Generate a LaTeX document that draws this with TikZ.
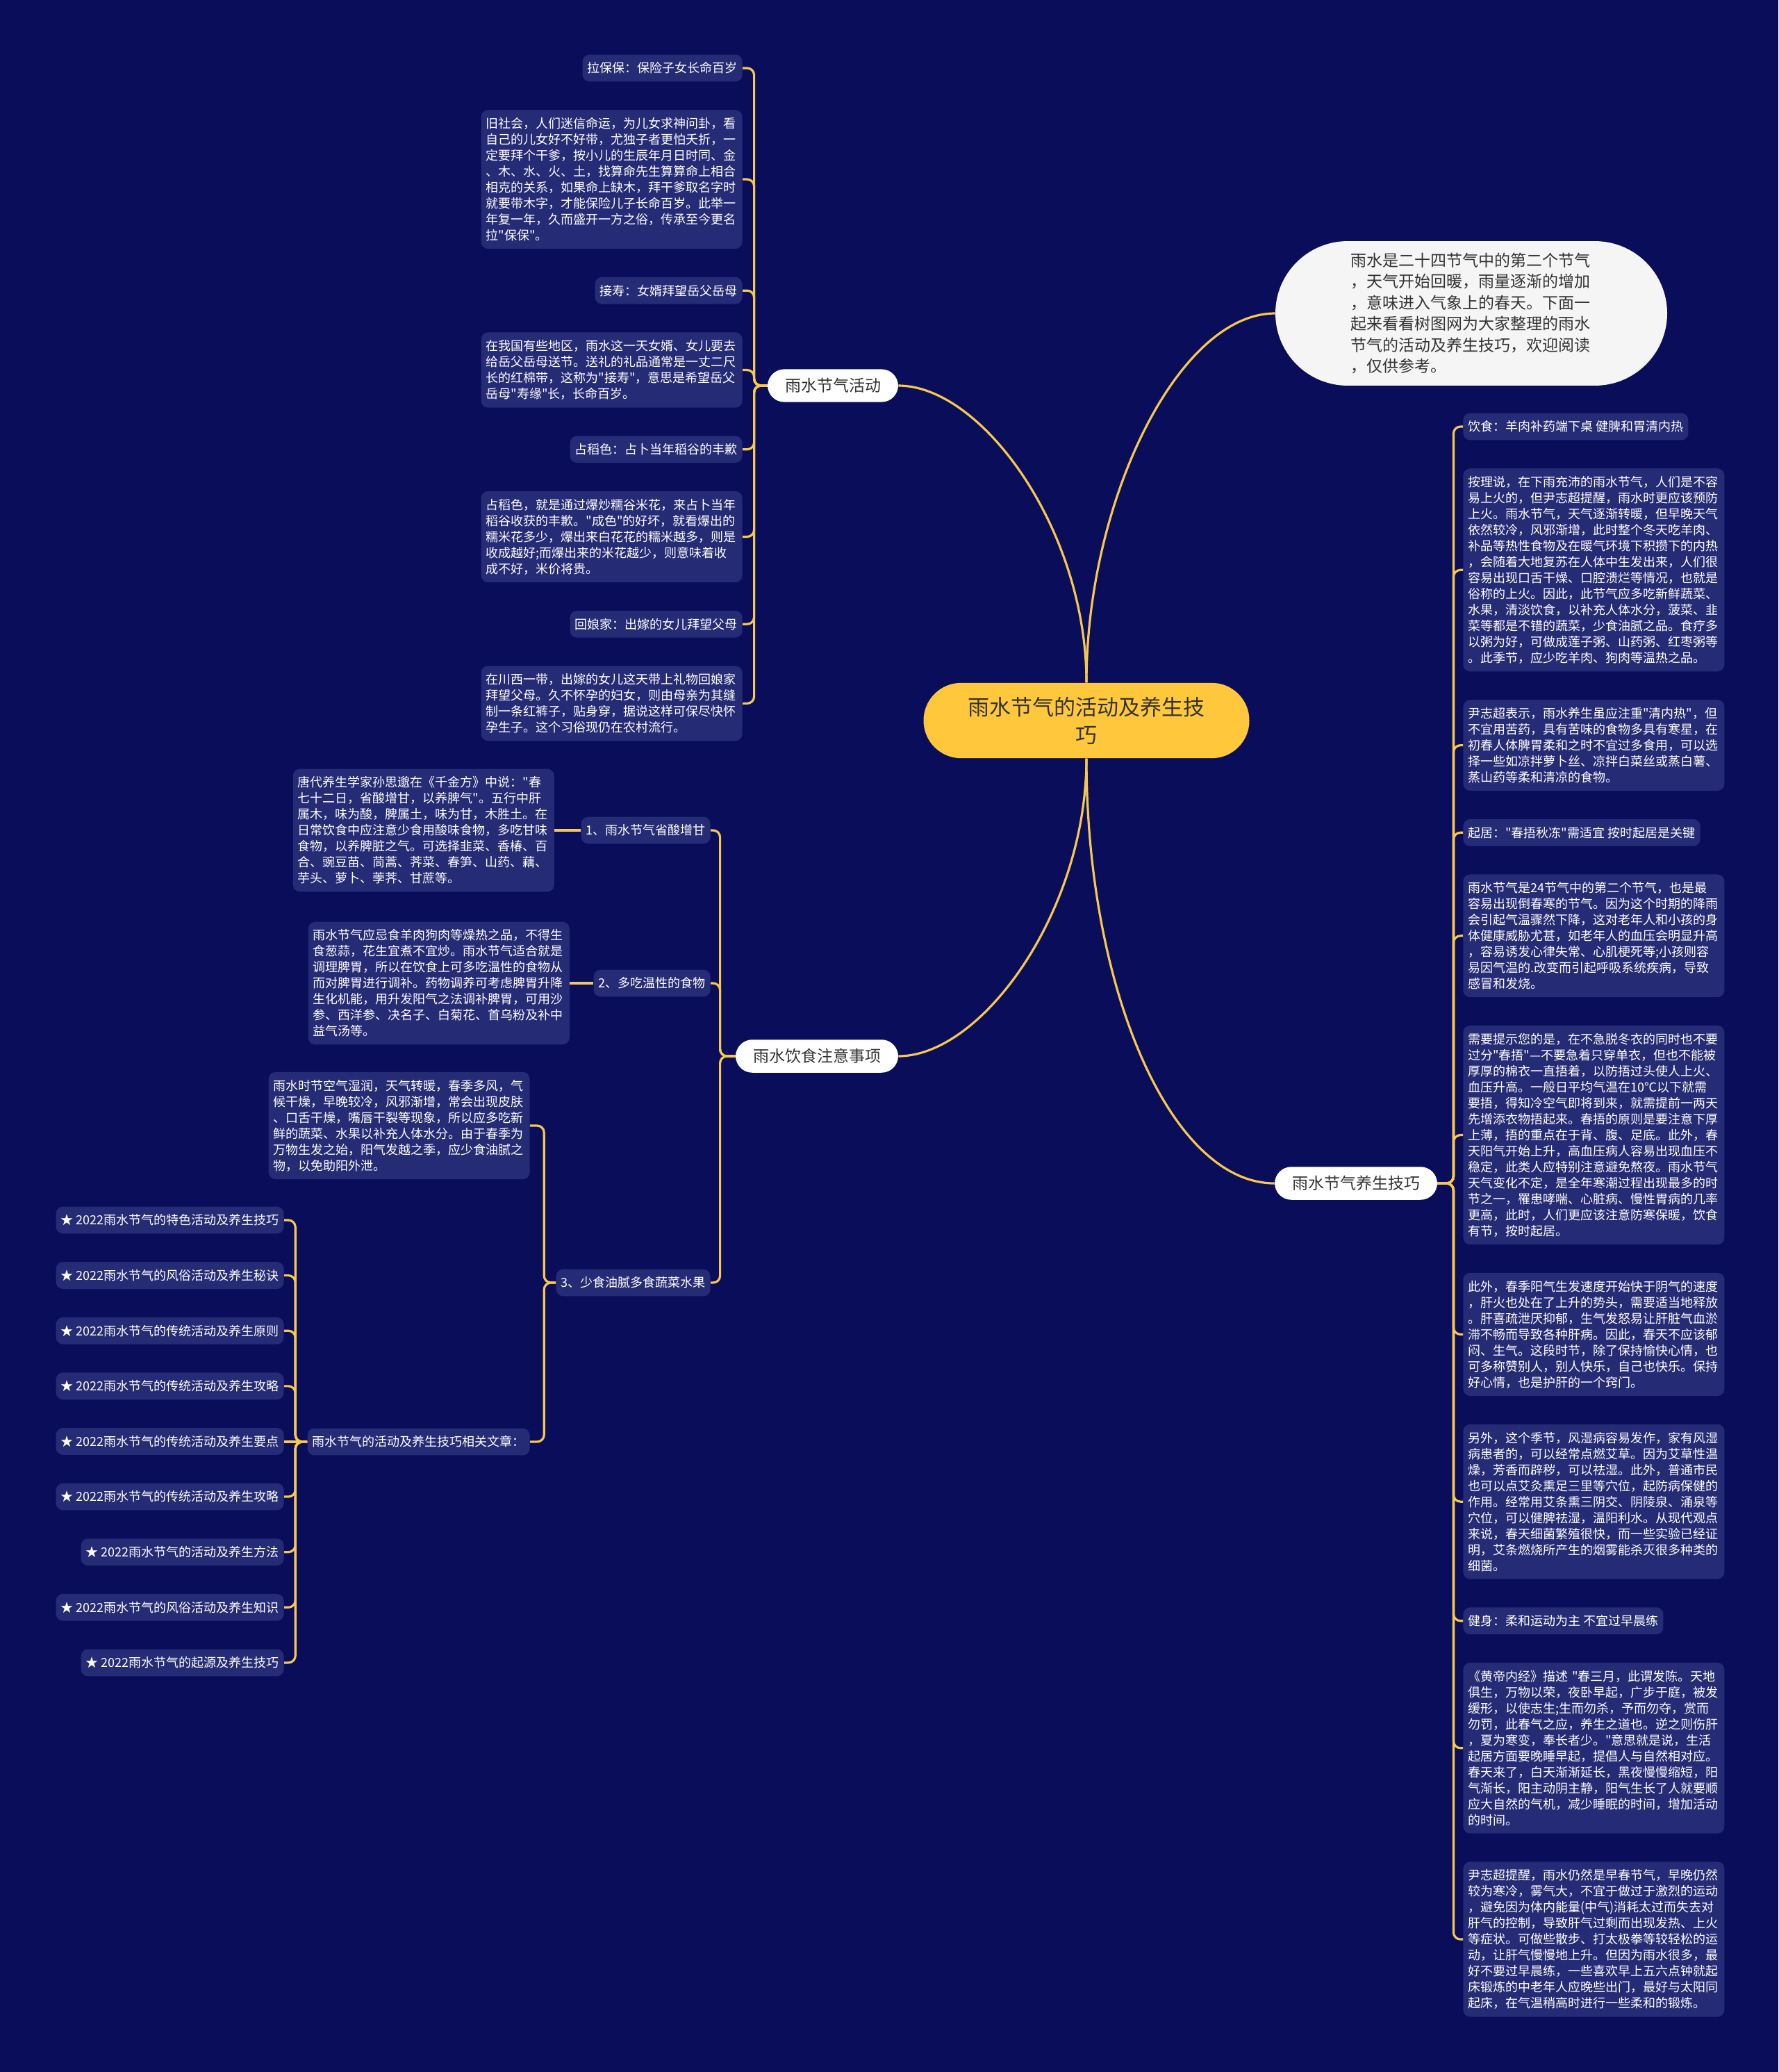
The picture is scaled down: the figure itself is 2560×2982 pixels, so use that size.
\documentclass[tikz,border=0pt]{standalone}
\usepackage{fontspec}
\newfontfamily\cjk{Noto Sans CJK SC}
\usetikzlibrary{positioning}
\definecolor{bgc}{RGB}{10,14,90}
\definecolor{leafc}{RGB}{38,43,117}
\definecolor{linkc}{RGB}{247,200,80}
\definecolor{rootc}{RGB}{255,200,60}
\definecolor{inkc}{RGB}{51,51,51}

\begin{document}
\begin{tikzpicture}[
  x=0.5pt,y=-0.5pt,
  node distance=20pt,
  leaf/.style={fill=leafc,rounded corners=5pt,text=white,font=\cjk\fontsize{9}{11.5}\selectfont,inner xsep=3.5pt,inner ysep=5.5pt},
  note/.style={leaf,text width=181pt,align=left},
  branch/.style={fill=white,rounded corners=12pt,text=inkc,font=\cjk\fontsize{11.5}{14}\selectfont,inner xsep=12.5pt,inner ysep=6.5pt},
  rootnode/.style={fill=rootc,rounded corners=27pt,text=inkc,font=\cjk\fontsize{15.5}{20}\selectfont,align=center,inner xsep=32pt,inner ysep=10pt},
  bubble/.style={fill=white!96!black,rounded corners=52pt,text=inkc,font=\cjk\fontsize{11.5}{15.2}\selectfont,text width=174pt,align=left,inner xsep=54pt,inner ysep=8.5pt},
  link/.style={draw=linkc,line width=1.6pt},
  fork/.style={link,rounded corners=5pt}
]
\fill[bgc] (0,0) rectangle (2560,2982);
\useasboundingbox (0,0) rectangle (2560,2982);

\node[rootnode] (root) at (1564,1037) {雨水节气的活动及养生技\\巧};
\node[bubble] (intro) at (2118,451) {雨水是二十四节气中的第二个节气\\，天气开始回暖，雨量逐渐的增加\\，意味进入气象上的春天。下面一\\起来看看树图网为大家整理的雨水\\节气的活动及养生技巧，欢迎阅读\\，仅供参考。};
\node[branch] (act) at (1199,555) {雨水节气活动};
\node[branch] (diet) at (1176,1520) {雨水饮食注意事项};
\node[branch] (care) at (1952,1703) {雨水节气养生技巧};

\node[leaf,anchor=east] (a1) at (1069,98) {拉保保：保险子女长命百岁};
\node[note,below=of a1.south east,anchor=north east] (a2) {旧社会，人们迷信命运，为儿女求神问卦，看\\自己的儿女好不好带，尤独子者更怕夭折，一\\定要拜个干爹，按小儿的生辰年月日时同、金\\、木、水、火、土，找算命先生算算命上相合\\相克的关系，如果命上缺木，拜干爹取名字时\\就要带木字，才能保险儿子长命百岁。此举一\\年复一年，久而盛开一方之俗，传承至今更名\\拉"保保"。};
\node[leaf,below=of a2.south east,anchor=north east] (a3) {接寿：女婿拜望岳父岳母};
\node[note,below=of a3.south east,anchor=north east] (a4) {在我国有些地区，雨水这一天女婿、女儿要去\\给岳父岳母送节。送礼的礼品通常是一丈二尺\\长的红棉带，这称为"接寿"，意思是希望岳父\\岳母"寿缘"长，长命百岁。};
\node[leaf,below=of a4.south east,anchor=north east] (a5) {占稻色：占卜当年稻谷的丰歉};
\node[note,below=of a5.south east,anchor=north east] (a6) {占稻色，就是通过爆炒糯谷米花，来占卜当年\\稻谷收获的丰歉。"成色"的好坏，就看爆出的\\糯米花多少，爆出来白花花的糯米越多，则是\\收成越好;而爆出来的米花越少，则意味着收\\成不好，米价将贵。};
\node[leaf,below=of a6.south east,anchor=north east] (a7) {回娘家：出嫁的女儿拜望父母};
\node[note,below=of a7.south east,anchor=north east] (a8) {在川西一带，出嫁的女儿这天带上礼物回娘家\\拜望父母。久不怀孕的妇女，则由母亲为其缝\\制一条红裤子，贴身穿，据说这样可保尽快怀\\孕生子。这个习俗现仍在农村流行。};

\node[leaf,anchor=east] (d1) at (1023,1195) {1、雨水节气省酸增甘};
\node[note,left=19pt of d1] (d1t) {唐代养生学家孙思邈在《千金方》中说："春\\七十二日，省酸增甘，以养脾气"。五行中肝\\属木，味为酸，脾属土，味为甘，木胜土。在\\日常饮食中应注意少食用酸味食物，多吃甘味\\食物，以养脾脏之气。可选择韭菜、香椿、百\\合、豌豆苗、茼蒿、荠菜、春笋、山药、藕、\\芋头、萝卜、荸荠、甘蔗等。};
\node[leaf,anchor=east] (d2) at (1023,1415) {2、多吃温性的食物};
\node[note,left=17pt of d2] (d2t) {雨水节气应忌食羊肉狗肉等燥热之品，不得生\\食葱蒜，花生宜煮不宜炒。雨水节气适合就是\\调理脾胃，所以在饮食上可多吃温性的食物从\\而对脾胃进行调补。药物调养可考虑脾胃升降\\生化机能，用升发阳气之法调补脾胃，可用沙\\参、西洋参、决名子、白菊花、首乌粉及补中\\益气汤等。};
\node[leaf,anchor=east] (d3) at (1023,1846) {3、少食油腻多食蔬菜水果};
\node[note,anchor=east] (d3t) at (763,1620) {雨水时节空气湿润，天气转暖，春季多风，气\\候干燥，早晚较冷，风邪渐增，常会出现皮肤\\、口舌干燥，嘴唇干裂等现象，所以应多吃新\\鲜的蔬菜、水果以补充人体水分。由于春季为\\万物生发之始，阳气发越之季，应少食油腻之\\物，以免助阳外泄。};
\node[leaf,anchor=east] (d4) at (763,2075) {雨水节气的活动及养生技巧相关文章：};

\node[leaf,anchor=east] (s1) at (409,1756) {★ 2022雨水节气的特色活动及养生技巧};
\node[leaf,below=of s1.south east,anchor=north east] (s2) {★ 2022雨水节气的风俗活动及养生秘诀};
\node[leaf,below=of s2.south east,anchor=north east] (s3) {★ 2022雨水节气的传统活动及养生原则};
\node[leaf,below=of s3.south east,anchor=north east] (s4) {★ 2022雨水节气的传统活动及养生攻略};
\node[leaf,below=of s4.south east,anchor=north east] (s5) {★ 2022雨水节气的传统活动及养生要点};
\node[leaf,below=of s5.south east,anchor=north east] (s6) {★ 2022雨水节气的传统活动及养生攻略};
\node[leaf,below=of s6.south east,anchor=north east] (s7) {★ 2022雨水节气的活动及养生方法};
\node[leaf,below=of s7.south east,anchor=north east] (s8) {★ 2022雨水节气的风俗活动及养生知识};
\node[leaf,below=of s8.south east,anchor=north east] (s9) {★ 2022雨水节气的起源及养生技巧};

\node[leaf,anchor=west] (r1) at (2106,614) {饮食：羊肉补药端下桌 健脾和胃清内热};
\node[note,below=of r1.south west,anchor=north west] (r2) {按理说，在下雨充沛的雨水节气，人们是不容\\易上火的，但尹志超提醒，雨水时更应该预防\\上火。雨水节气，天气逐渐转暖，但早晚天气\\依然较冷，风邪渐增，此时整个冬天吃羊肉、\\补品等热性食物及在暖气环境下积攒下的内热\\，会随着大地复苏在人体中生发出来，人们很\\容易出现口舌干燥、口腔溃烂等情况，也就是\\俗称的上火。因此，此节气应多吃新鲜蔬菜、\\水果，清淡饮食，以补充人体水分，菠菜、韭\\菜等都是不错的蔬菜，少食油腻之品。食疗多\\以粥为好，可做成莲子粥、山药粥、红枣粥等\\。此季节，应少吃羊肉、狗肉等温热之品。};
\node[note,below=of r2.south west,anchor=north west] (r3) {尹志超表示，雨水养生虽应注重"清内热"，但\\不宜用苦药，具有苦味的食物多具有寒星，在\\初春人体脾胃柔和之时不宜过多食用，可以选\\择一些如凉拌萝卜丝、凉拌白菜丝或蒸白薯、\\蒸山药等柔和清凉的食物。};
\node[leaf,below=of r3.south west,anchor=north west] (r4) {起居："春捂秋冻"需适宜 按时起居是关键};
\node[note,below=of r4.south west,anchor=north west] (r5) {雨水节气是24节气中的第二个节气，也是最\\容易出现倒春寒的节气。因为这个时期的降雨\\会引起气温骤然下降，这对老年人和小孩的身\\体健康威胁尤甚，如老年人的血压会明显升高\\，容易诱发心律失常、心肌梗死等;小孩则容\\易因气温的.改变而引起呼吸系统疾病，导致\\感冒和发烧。};
\node[note,below=of r5.south west,anchor=north west] (r6) {需要提示您的是，在不急脱冬衣的同时也不要\\过分"春捂"—不要急着只穿单衣，但也不能被\\厚厚的棉衣一直捂着，以防捂过头使人上火、\\血压升高。一般日平均气温在10℃以下就需\\要捂，得知冷空气即将到来，就需提前一两天\\先增添衣物捂起来。春捂的原则是要注意下厚\\上薄，捂的重点在于背、腹、足底。此外，春\\天阳气开始上升，高血压病人容易出现血压不\\稳定，此类人应特别注意避免熬夜。雨水节气\\天气变化不定，是全年寒潮过程出现最多的时\\节之一，罹患哮喘、心脏病、慢性胃病的几率\\更高，此时，人们更应该注意防寒保暖，饮食\\有节，按时起居。};
\node[note,below=of r6.south west,anchor=north west] (r7) {此外，春季阳气生发速度开始快于阴气的速度\\，肝火也处在了上升的势头，需要适当地释放\\。肝喜疏泄厌抑郁，生气发怒易让肝脏气血淤\\滞不畅而导致各种肝病。因此，春天不应该郁\\闷、生气。这段时节，除了保持愉快心情，也\\可多称赞别人，别人快乐，自己也快乐。保持\\好心情，也是护肝的一个窍门。};
\node[note,below=of r7.south west,anchor=north west] (r8) {另外，这个季节，风湿病容易发作，家有风湿\\病患者的，可以经常点燃艾草。因为艾草性温\\燥，芳香而辟秽，可以祛湿。此外，普通市民\\也可以点艾灸熏足三里等穴位，起防病保健的\\作用。经常用艾条熏三阴交、阴陵泉、涌泉等\\穴位，可以健脾祛湿，温阳利水。从现代观点\\来说，春天细菌繁殖很快，而一些实验已经证\\明，艾条燃烧所产生的烟雾能杀灭很多种类的\\细菌。};
\node[leaf,below=of r8.south west,anchor=north west] (r9) {健身：柔和运动为主 不宜过早晨练};
\node[note,below=of r9.south west,anchor=north west] (r10) {《黄帝内经》描述~"春三月，此谓发陈。天地\\俱生，万物以荣，夜卧早起，广步于庭，被发\\缓形，以使志生;生而勿杀，予而勿夺，赏而\\勿罚，此春气之应，养生之道也。逆之则伤肝\\，夏为寒变，奉长者少。"意思就是说，生活\\起居方面要晚睡早起，提倡人与自然相对应。\\春天来了，白天渐渐延长，黑夜慢慢缩短，阳\\气渐长，阳主动阴主静，阳气生长了人就要顺\\应大自然的气机，减少睡眠的时间，增加活动\\的时间。};
\node[note,below=of r10.south west,anchor=north west] (r11) {尹志超提醒，雨水仍然是早春节气，早晚仍然\\较为寒冷，雾气大，不宜于做过于激烈的运动\\，避免因为体内能量(中气)消耗太过而失去对\\肝气的控制，导致肝气过剩而出现发热、上火\\等症状。可做些散步、打太极拳等较轻松的运\\动，让肝气慢慢地上升。但因为雨水很多，最\\好不要过早晨练，一些喜欢早上五六点钟就起\\床锻炼的中老年人应晚些出门，最好与太阳同\\起床，在气温稍高时进行一些柔和的锻炼。};

\draw[link] (root.north) .. controls +(0,-220) and +(120,0) .. (act.east);
\draw[link] (root.north) .. controls +(0,-260) and +(-140,0) .. (intro.west);
\draw[link] (root.south) .. controls +(0,220) and +(120,0) .. (diet.east);
\draw[link] (root.south) .. controls +(0,330) and +(-150,0) .. (care.west);

\draw[fork] (act.west) -- ++(-19,0) |- (a1.east);
\draw[fork] (act.west) -- ++(-19,0) |- (a2.east);
\draw[fork] (act.west) -- ++(-19,0) |- (a3.east);
\draw[fork] (act.west) -- ++(-19,0) |- (a4.east);
\draw[fork] (act.west) -- ++(-19,0) |- (a5.east);
\draw[fork] (act.west) -- ++(-19,0) |- (a6.east);
\draw[fork] (act.west) -- ++(-19,0) |- (a7.east);
\draw[fork] (act.west) -- ++(-19,0) |- (a8.east);

\draw[fork] (diet.west) -- ++(-22,0) |- (d1.east);
\draw[fork] (diet.west) -- ++(-22,0) |- (d2.east);
\draw[fork] (diet.west) -- ++(-22,0) |- (d3.east);
\draw[link] (d1.west) -- (d1t.east);
\draw[link] (d2.west) -- (d2t.east);
\draw[fork] (d3.west) -- ++(-17,0) |- (d3t.east);
\draw[fork] (d3.west) -- ++(-17,0) |- (d4.east);

\draw[fork] (d4.west) -- ++(-17,0) |- (s1.east);
\draw[fork] (d4.west) -- ++(-17,0) |- (s2.east);
\draw[fork] (d4.west) -- ++(-17,0) |- (s3.east);
\draw[fork] (d4.west) -- ++(-17,0) |- (s4.east);
\draw[link] (d4.west) -- (s5.east |- d4.west);
\draw[fork] (d4.west) -- ++(-17,0) |- (s6.east);
\draw[fork] (d4.west) -- ++(-17,0) |- (s7.east);
\draw[fork] (d4.west) -- ++(-17,0) |- (s8.east);
\draw[fork] (d4.west) -- ++(-17,0) |- (s9.east);

\draw[fork] (care.east) -- ++(23,0) |- (r1.west);
\draw[fork] (care.east) -- ++(23,0) |- (r2.west);
\draw[fork] (care.east) -- ++(23,0) |- (r3.west);
\draw[fork] (care.east) -- ++(23,0) |- (r4.west);
\draw[fork] (care.east) -- ++(23,0) |- (r5.west);
\draw[fork] (care.east) -- ++(23,0) |- (r6.west);
\draw[fork] (care.east) -- ++(23,0) |- (r7.west);
\draw[fork] (care.east) -- ++(23,0) |- (r8.west);
\draw[fork] (care.east) -- ++(23,0) |- (r9.west);
\draw[fork] (care.east) -- ++(23,0) |- (r10.west);
\draw[fork] (care.east) -- ++(23,0) |- (r11.west);
\end{tikzpicture}
\end{document}
